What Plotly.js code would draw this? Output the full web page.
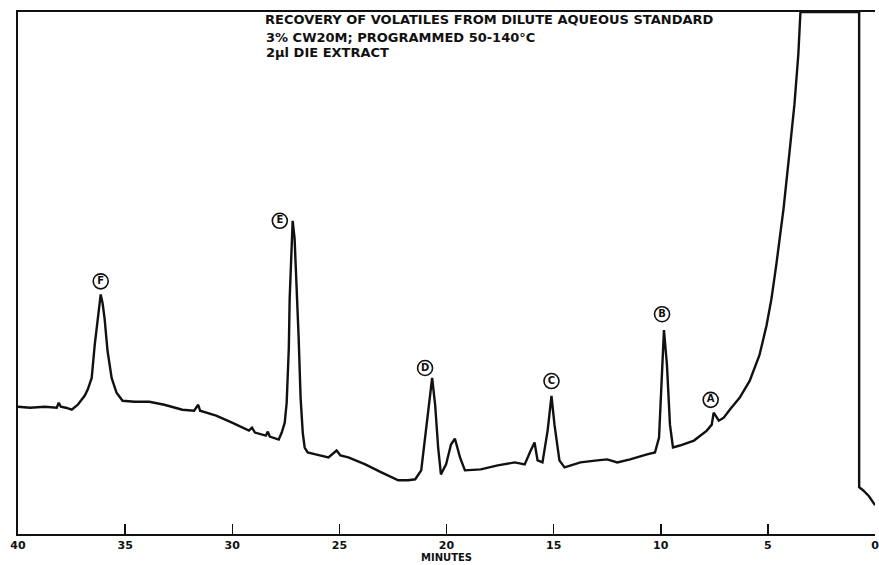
<!DOCTYPE html>
<html>
<head>
<meta charset="utf-8">
<script src="https://cdn.plot.ly/plotly-3.0.1.min.js"></script>
<style>html,body{margin:0;padding:0;background:#fff;}#chart{width:879px;height:565px;}</style>
</head>
<body>
<div id="chart"></div>
<script>
// Retention time (minutes) and detector response (% of recorder full scale)
const retentionTime = [40.00,39.44,38.75,38.19,38.10,38.00,37.77,37.49,37.21,37.03,36.89,36.75,36.56,36.42,36.28,36.14,36.05,35.96,35.82,35.63,35.40,35.12,34.56,33.87,33.17,32.33,31.78,31.59,31.50,30.75,30.01,29.22,29.08,28.94,28.43,28.34,28.25,27.83,27.69,27.55,27.46,27.36,27.32,27.22,27.18,27.09,26.99,26.90,26.81,26.71,26.62,26.48,26.11,25.51,25.13,24.95,24.58,23.79,23.04,22.25,21.79,21.46,21.18,20.95,20.77,20.67,20.53,20.39,20.26,20.02,19.79,19.61,19.37,19.14,18.40,17.61,16.82,16.35,16.07,15.89,15.75,15.52,15.28,15.10,14.96,14.73,14.49,13.75,12.96,12.50,12.03,11.43,10.64,10.27,10.08,9.94,9.85,9.71,9.57,9.43,9.11,8.45,7.85,7.62,7.53,7.29,7.06,6.78,6.32,5.85,5.39,5.06,4.83,4.60,4.27,4.00,3.76,3.58,3.48,2.28,0.74,0.74,0.56,0.28,0.00];
const response = [24.38,24.19,24.38,24.19,25.14,24.38,24.19,23.81,24.76,25.71,26.48,27.62,29.90,36.19,41.33,45.90,44.19,41.33,35.05,29.90,27.05,25.52,25.33,25.33,24.76,23.81,23.62,24.76,23.62,22.67,21.33,19.81,20.38,19.43,18.86,19.62,18.67,18.10,19.43,21.33,25.14,35.62,45.14,56.57,60.00,56.57,47.05,37.52,26.10,19.43,16.57,15.62,15.24,14.67,16.00,15.05,14.67,13.33,11.81,10.29,10.29,10.48,12.19,19.81,26.10,29.90,24.76,16.57,11.43,13.33,17.14,18.29,14.67,12.19,12.38,13.14,13.71,13.33,16.00,17.52,14.10,13.71,19.81,26.48,20.95,14.10,12.76,13.71,14.10,14.29,13.71,14.29,15.24,15.62,18.48,32.38,39.05,32.38,20.95,16.57,16.95,17.90,19.81,20.95,23.24,21.71,22.29,23.81,26.10,29.33,34.29,40.00,45.14,51.81,62.29,72.76,82.29,91.81,100,100,100,8.95,8.38,7.24,5.52];

// Peak identification labels (circled letters)
const peakLabels = ['A','B','C','D','E','F'];
const labelTime = [7.67,9.94,15.10,21.00,27.78,36.14];
const labelLevel = [25.7,42.1,29.3,31.8,60.0,48.4];

// Axis ticks
const tickValues = [40,35,30,25,20,15,10,5,0];
const tickText = ['40','35','30','25','20','15','10','5','0'];

const titleLines = ['RECOVERY OF VOLATILES FROM DILUTE AQUEOUS STANDARD','3% CW20M; PROGRAMMED 50-140°C','2µl DIE EXTRACT'];

const FONT = 'DejaVu Sans, Liberation Sans, sans-serif';

const traces = [
  {
    x: retentionTime, y: response, type: 'scatter', mode: 'lines',
    line: {color: '#111', width: 2.4}, hoverinfo: 'skip', showlegend: false
  },
  {
    x: labelTime, y: labelLevel, type: 'scatter', mode: 'markers+text',
    text: peakLabels.map(s => '<b>' + s + '</b>'), textposition: 'middle center',
    textfont: {family: FONT, size: 10, color: '#111'},
    marker: {symbol: 'circle-open', size: 15, color: '#111', line: {width: 1.6, color: '#111'}},
    hoverinfo: 'skip', showlegend: false, cliponaxis: false
  }
];

const PLOT_TOP = 12, PLOT_BOTTOM = 534, PLOT_H = PLOT_BOTTOM - PLOT_TOP;

const layout = {
  width: 879, height: 565,
  margin: {l: 18, r: 4, t: PLOT_TOP, b: 565 - PLOT_BOTTOM, pad: 0},
  paper_bgcolor: '#fff', plot_bgcolor: '#fff',
  showlegend: false,
  title: {
    text: '<b>' + titleLines[0] + '</b>',
    font: {family: FONT, size: 13, color: '#111'},
    x: 265/879, xanchor: 'left', xref: 'container',
    y: 1 - 15/565, yanchor: 'top', yref: 'container'
  },
  annotations: [
    {text: '<b>' + titleLines[1] + '</b>', xref: 'paper', yref: 'paper', x: 0.288, y: (PLOT_BOTTOM-29)/PLOT_H, xanchor: 'left', yanchor: 'top', showarrow: false, borderpad: 0, font: {family: FONT, size: 13, color: '#111'}},
    {text: '<b>' + titleLines[2] + '</b>', xref: 'paper', yref: 'paper', x: 0.288, y: (PLOT_BOTTOM-44)/PLOT_H, xanchor: 'left', yanchor: 'top', showarrow: false, borderpad: 0, font: {family: FONT, size: 13, color: '#111'}}
  ],
  xaxis: {
    range: [40, 0], tickvals: tickValues, ticktext: tickText,
    ticks: 'inside', ticklen: 10, tickwidth: 1.5, tickcolor: '#111',
    showline: true, linecolor: '#111', linewidth: 2, mirror: true,
    showgrid: false, zeroline: false, ticklabeloverflow: 'allow',
    tickfont: {family: FONT, size: 11, color: '#111', weight: 'bold'},
    title: {text: '<b>MINUTES</b>', font: {family: FONT, size: 10, color: '#111'}, standoff: 3}
  },
  yaxis: {
    range: [0, 100], showline: true, linecolor: '#111', linewidth: 2, mirror: false,
    showgrid: false, zeroline: false, ticks: '', showticklabels: false
  }
};

Plotly.newPlot('chart', traces, layout, {displayModeBar: false, staticPlot: true});
</script>
</body>
</html>
